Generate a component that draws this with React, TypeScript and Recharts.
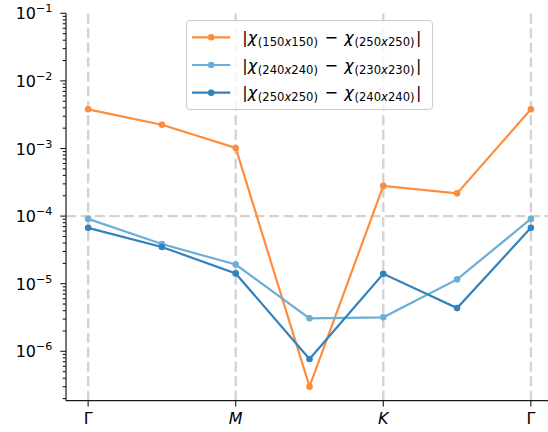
import React from "react";
import { LineChart, Line, XAxis, YAxis, ReferenceLine, Legend } from "recharts";

// Path through the Brillouin zone: Γ → M → K → Γ, with one midpoint per segment
const kIndex = [0, 1, 2, 3, 4, 5, 6];
const pathTicks = [0, 2, 4, 6];
const pathLabels = ["Γ", "M", "K", "Γ"];

// Absolute differences of χ between lattice sizes
const diff150vs250 = [3.8e-3, 2.25e-3, 1.02e-3, 3.0e-7, 2.8e-4, 2.17e-4, 3.8e-3];
const diff240vs230 = [9.1e-5, 3.86e-5, 1.92e-5, 3.08e-6, 3.18e-6, 1.16e-5, 9.1e-5];
const diff250vs240 = [6.7e-5, 3.49e-5, 1.42e-5, 7.7e-7, 1.4e-5, 4.36e-6, 6.7e-5];

// Legend size pairs: |χ(first) − χ(second)|
const legendPairs = [
  ["150x150", "250x250"],
  ["240x240", "230x230"],
  ["250x250", "240x240"],
];

const majorTicks = [1e-6, 1e-5, 1e-4, 1e-3, 1e-2, 1e-1];
const minorMantissas = [2, 3, 4, 5, 6, 7, 8, 9];
const minorDecades = [1e-7, 1e-6, 1e-5, 1e-4, 1e-3, 1e-2];

const Y_MIN = 1.86e-7;
const Y_MAX = 1e-1;
const GRID_Y = 1e-4;

const COLORS = ["#fd8d3c", "#6baed6", "#3182bd"];
const KEYS = ["d150_250", "d240_230", "d250_240"];

const data = kIndex.map((k, i) => ({
  k,
  d150_250: diff150vs250[i],
  d240_230: diff240vs230[i],
  d250_240: diff250vs240[i],
}));

const minorTicks = minorDecades
  .flatMap((d) => minorMantissas.map((m) => m * d))
  .filter((v) => v >= Y_MIN && v <= Y_MAX);
const allYTicks = [...minorTicks, ...majorTicks].sort((a, b) => a - b);

const FONT = "DejaVu Sans";
const AXIS = "#1a1a1a";
const PLOT_LEFT = 66;
const Y_AXIS_W = 66;
const SUB_SIZE = 11.6;

const isMajor = (v: number) => {
  const l = Math.log10(v);
  return Math.abs(l - Math.round(l)) < 1e-6;
};

const YTick = (props: any) => {
  const { y, payload } = props;
  const v = payload.value as number;
  const major = isMajor(v);
  const len = major ? 5.7 : 3.3;
  return (
    <g>
      <line x1={PLOT_LEFT - len} x2={PLOT_LEFT} y1={y} y2={y} stroke={AXIS} strokeWidth={1.1} />
      {major && (
        <text x={PLOT_LEFT - 13.5} y={y} dy={6} textAnchor="end" fontFamily={FONT} fontSize={16} fill="#000">
          <tspan>10</tspan>
          <tspan fontSize={11.2} dy={-7}>{"−" + String(Math.abs(Math.round(Math.log10(v))))}</tspan>
        </text>
      )}
    </g>
  );
};

const XTick = (props: any) => {
  const { x, y, payload } = props;
  const idx = pathTicks.indexOf(payload.value);
  const label = pathLabels[idx] ?? "";
  return (
    <text
      x={x}
      y={y}
      dy={15.5}
      textAnchor="middle"
      fontFamily={FONT}
      fontSize={16}
      fontStyle={label === "Γ" ? "normal" : "italic"}
      fill="#000"
    >
      {label}
    </text>
  );
};

const Sub = ({ text }: { text: string }) => {
  const [a, b] = text.split("x");
  return (
    <>
      <tspan fontSize={SUB_SIZE} dy={3} dx={0.6}>{"(" + a}</tspan>
      <tspan fontSize={SUB_SIZE} fontStyle="italic">x</tspan>
      <tspan fontSize={SUB_SIZE}>{b + ")"}</tspan>
    </>
  );
};

const LegendBox = () => (
  <svg width={248} height={91} style={{ display: "block" }}>
    <rect x={0.5} y={0.5} width={246} height={89} rx={3.5} fill="#fff" fillOpacity={0.8} stroke="#cccccc" />
    {legendPairs.map((pair, i) => {
      const cy = 17.3 + i * 27.7;
      const base = cy + 5.7;
      return (
        <g key={i}>
          <line x1={6} x2={44.3} y1={cy} y2={cy} stroke={COLORS[i]} strokeWidth={2.2} />
          <circle cx={25.2} cy={cy} r={3.3} fill={COLORS[i]} />
          <text x={56.3} y={base} fontFamily={FONT} fontSize={16} fill="#000">
            <tspan>|</tspan>
            <tspan fontStyle="italic">χ</tspan>
            <Sub text={pair[0]} />
            <tspan dy={-3} dx={6.5}>−</tspan>
            <tspan dx={6.5} fontStyle="italic">χ</tspan>
            <Sub text={pair[1]} />
            <tspan dy={-3} dx={1.5}>|</tspan>
          </text>
        </g>
      );
    })}
  </svg>
);

export default function App() {
  return (
    <div style={{ position: "fixed", left: 0, top: 0, width: 548, height: 432, overflow: "hidden", background: "#fff" }}>
      <LineChart width={560} height={432} data={data} margin={{ top: 13.3, right: 7, left: 0, bottom: 0 }}>
        <XAxis
          dataKey="k"
          type="number"
          domain={[-0.3, 6.3]}
          ticks={pathTicks}
          interval={0}
          allowDataOverflow
          height={31.3}
          tick={<XTick />}
          tickSize={5.7}
          tickLine={{ stroke: AXIS, strokeWidth: 1.1 }}
          axisLine={{ stroke: AXIS, strokeWidth: 1.2 }}
        />
        <XAxis
          xAxisId="top"
          orientation="top"
          type="number"
          domain={[-0.3, 6.3]}
          height={0}
          tick={false}
          tickLine={false}
          axisLine={{ stroke: AXIS, strokeWidth: 1.2 }}
        />
        <YAxis
          type="number"
          scale="log"
          domain={[Y_MIN, Y_MAX]}
          allowDataOverflow
          ticks={allYTicks}
          interval={0}
          width={Y_AXIS_W}
          tick={<YTick />}
          tickLine={false}
          axisLine={{ stroke: AXIS, strokeWidth: 1.2 }}
        />
        {pathTicks.map((t, i) => (
          <ReferenceLine key={"v" + i} x={t} stroke="#d3d3d3" strokeWidth={2.4} strokeDasharray="10 4.5" />
        ))}
        <ReferenceLine y={GRID_Y} stroke="#d3d3d3" strokeWidth={2.4} strokeDasharray="10 4.5" />
        {KEYS.map((key, i) => (
          <Line
            key={key}
            dataKey={key}
            stroke={COLORS[i]}
            strokeWidth={2.2}
            dot={{ r: 3.3, fill: COLORS[i], stroke: "none" }}
            activeDot={false}
            isAnimationActive={false}
          />
        ))}
        <Legend
          layout="horizontal"
          verticalAlign="middle"
          align="center"
          wrapperStyle={{ left: 185.7, top: 20, width: 248, height: 91 }}
          content={() => <LegendBox />}
        />
      </LineChart>
    </div>
  );
}
